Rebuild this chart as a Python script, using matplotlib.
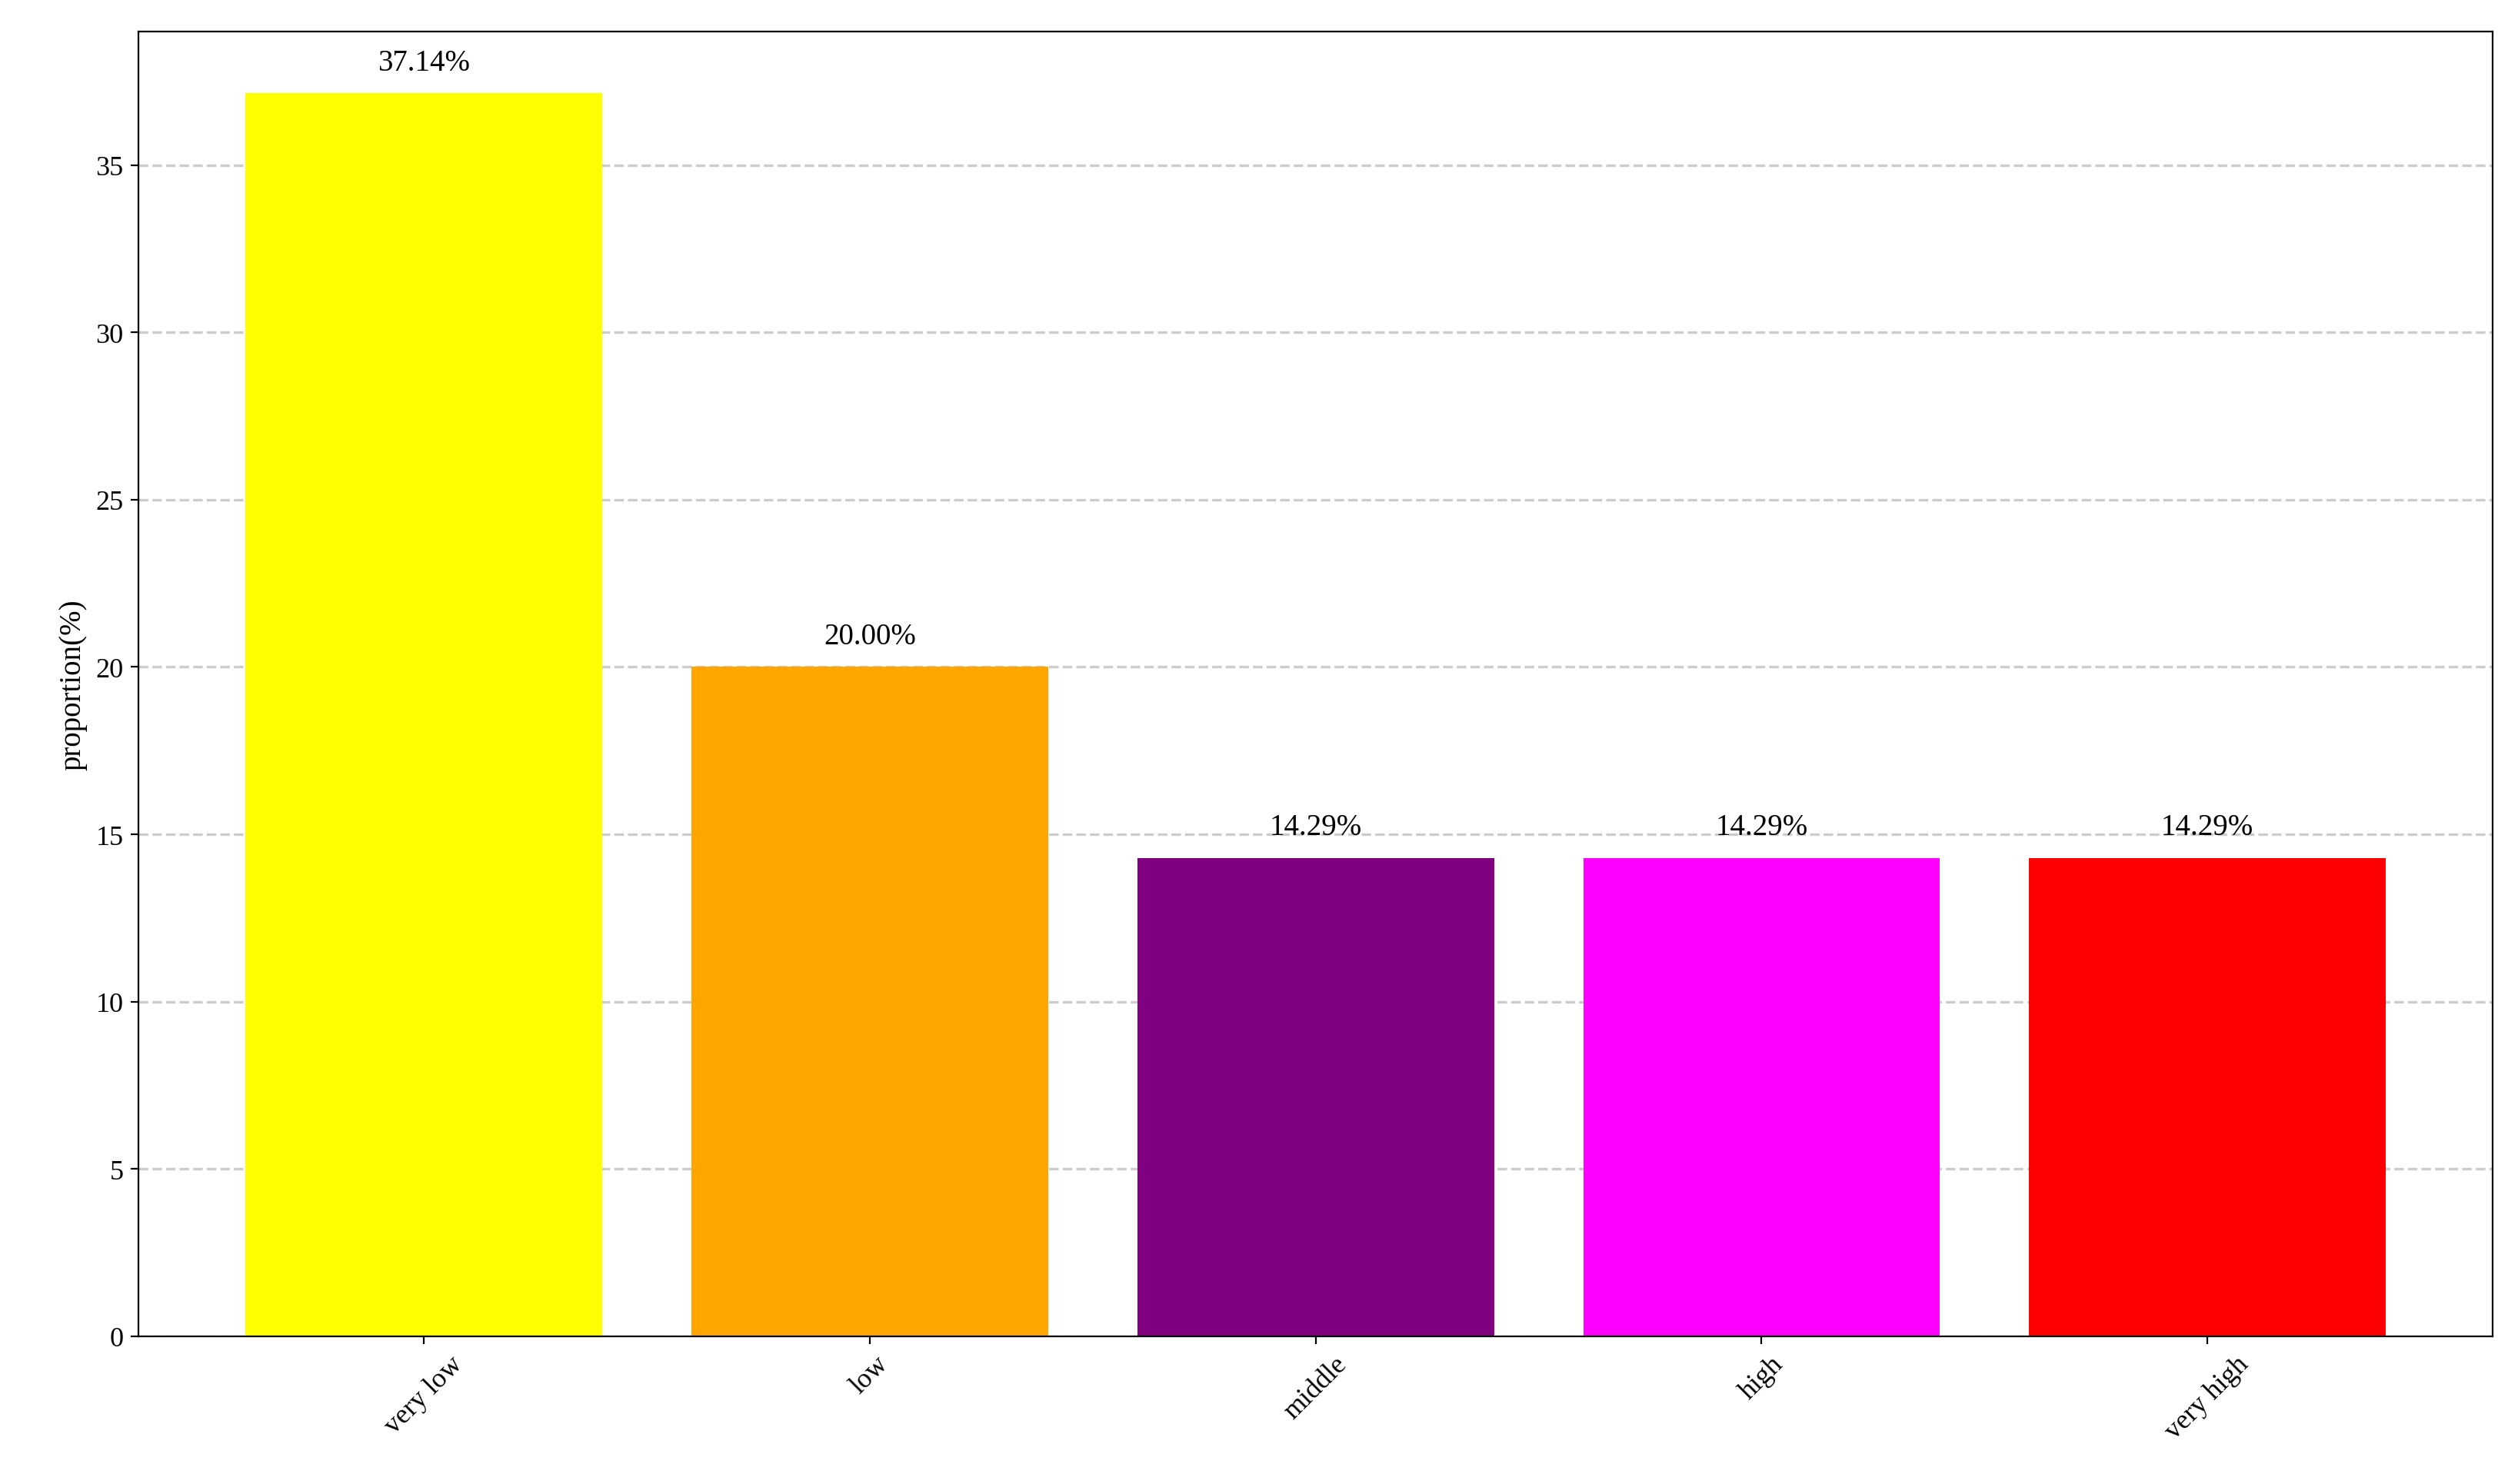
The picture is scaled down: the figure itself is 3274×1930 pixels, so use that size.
import matplotlib
matplotlib.use("Agg")
import matplotlib.pyplot as plt

categories = ["very low", "low", "middle", "high", "very high"]
values = [37.14, 20.00, 14.29, 14.29, 14.29]
colors = ["yellow", "orange", "purple", "magenta", "red"]

plt.rcParams['font.family'] = ['Liberation Serif', 'DejaVu Serif']
fig = plt.figure(figsize=(16.37, 9.655), dpi=200)
ax = fig.add_axes([0.055, 0.0995, 0.935, 0.879])
bars = ax.bar(categories, values, color=colors, width=0.8)
for b, v in zip(bars, values):
    ax.text(b.get_x() + b.get_width() / 2, v + 0.5, f"{v:.2f}%", ha="center", va="bottom", fontsize=14)
ax.set_ylim(0, 39)
ax.set_ylabel("proportion(%)", fontsize=14)
ax.tick_params(axis="both", labelsize=13)
plt.setp(ax.get_xticklabels(), rotation=45)
ax.yaxis.grid(True, linestyle="--", color="#cccccc", linewidth=1.2)
ax.set_axisbelow(True)
fig.savefig("out.png", dpi=200)
